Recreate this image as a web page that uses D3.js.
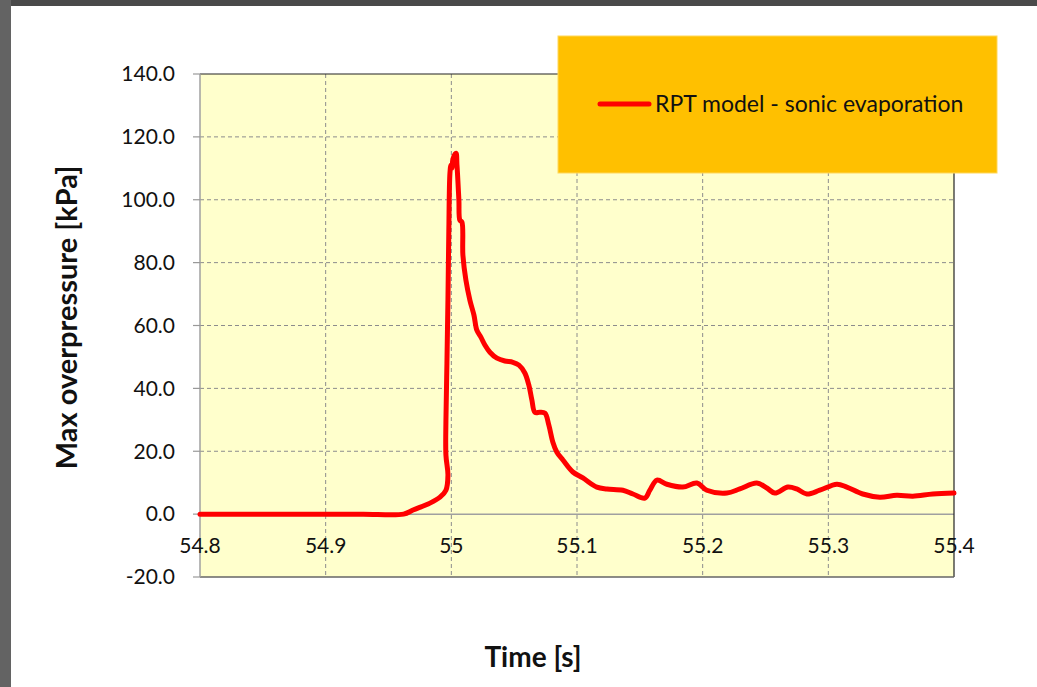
<!DOCTYPE html>
<html>
<head>
<meta charset="utf-8">
<script src="https://cdn.jsdelivr.net/npm/d3@7"></script>
<style>
  body { margin: 0; background: #fff; }
  svg text { font-family: Lato, "Open Sans", sans-serif; fill: #111; }
</style>
</head>
<body>
<div id="chart"></div>
<script>
const seriesName = "RPT model - sonic evaporation";

const timeS = [54.8, 54.85, 54.9, 54.93, 54.962, 54.9695, 54.983, 54.991, 54.9957, 54.9973, 54.9957, 54.9957, 54.9965,
  54.9973, 54.998, 54.9989, 54.9997, 55.0005, 55.0013, 55.0037, 55.0045, 55.006, 55.0068,
  55.0084, 55.0092, 55.0116, 55.0148, 55.018, 55.0203, 55.0235, 55.0267, 55.0307, 55.0363,
  55.0426, 55.049, 55.0538, 55.0585, 55.0617, 55.0641, 55.0665, 55.0705, 55.0745, 55.0776,
  55.0808, 55.084, 55.0888, 55.0967, 55.1047, 55.1158, 55.1238, 55.1365, 55.1445, 55.154,
  55.158, 55.1636, 55.1715, 55.1842, 55.1954, 55.2033, 55.2193, 55.2296, 55.2431, 55.2511,
  55.2574, 55.2678, 55.2749, 55.2829, 55.2932, 55.3068, 55.3147, 55.3274, 55.341, 55.3545,
  55.3672, 55.3831, 55.4];
const overpressure = [0, 0, 0, 0, 0, 1.3, 3.5, 5.4, 7.6, 12.4, 18.8, 29.9, 48,
  68, 90, 108.5, 111, 110, 113, 114.8, 111, 100, 93.5,
  92.9, 82.4, 74.4, 68, 63.3, 58.5, 56.3, 53.8, 51.5, 49.6,
  48.7, 48.3, 47.4, 44.9, 41, 36.3, 32.4, 32.4, 32.1, 28.3,
  22.9, 19.7, 17.2, 13.4, 11.5, 8.6, 8.0, 7.6, 6.4, 5.1,
  7.6, 10.8, 9.5, 8.6, 9.9, 7.6, 6.7, 8.0, 9.9, 8.3,
  6.7, 8.6, 8.0, 6.4, 7.6, 9.5, 8.6, 6.4, 5.4, 6.0,
  5.7, 6.4, 6.7];

const xTicks = [54.8, 54.9, 55, 55.1, 55.2, 55.3, 55.4];
const xTickLabels = ["54.8", "54.9", "55", "55.1", "55.2", "55.3", "55.4"];
const yTicks = [-20, 0, 20, 40, 60, 80, 100, 120, 140];

const W = 1037, H = 687;
const plot = { left: 200, right: 954, top: 74, bottom: 577 };

const svg = d3.select("#chart").append("svg")
  .attr("width", W).attr("height", H);

// slide frame
svg.append("rect").attr("x", 0).attr("y", 0).attr("width", W).attr("height", 6).attr("fill", "#4a4a4a");
svg.append("rect").attr("x", 0).attr("y", 0).attr("width", 11).attr("height", H).attr("fill", "#636363");

const x = d3.scaleLinear().domain([54.8, 55.4]).range([plot.left, plot.right]);
const y = d3.scaleLinear().domain([-20, 140]).range([plot.bottom, plot.top]);

svg.append("rect")
  .attr("x", plot.left).attr("y", plot.top)
  .attr("width", plot.right - plot.left).attr("height", plot.bottom - plot.top)
  .attr("fill", "#ffffcc");

// grid
svg.append("g").selectAll("line")
  .data(xTicks.slice(1, -1))
  .join("line")
  .attr("x1", d => x(d)).attr("x2", d => x(d))
  .attr("y1", plot.top).attr("y2", plot.bottom)
  .attr("stroke", "#8c8c8c").attr("stroke-width", 1).attr("stroke-dasharray", "4,3");

svg.append("g").selectAll("line")
  .data(yTicks.filter(d => d > 0 && d < 140))
  .join("line")
  .attr("x1", plot.left).attr("x2", plot.right)
  .attr("y1", d => y(d)).attr("y2", d => y(d))
  .attr("stroke", "#8c8c8c").attr("stroke-width", 1).attr("stroke-dasharray", "4,3");

// zero line
svg.append("line")
  .attr("x1", plot.left).attr("x2", plot.right)
  .attr("y1", y(0)).attr("y2", y(0))
  .attr("stroke", "#a0a0a0").attr("stroke-width", 1.5);

// frame lines
svg.append("line").attr("x1", plot.left).attr("x2", plot.right).attr("y1", plot.top).attr("y2", plot.top)
  .attr("stroke", "#222").attr("stroke-width", 1.2);
svg.append("line").attr("x1", plot.right).attr("x2", plot.right).attr("y1", plot.top).attr("y2", plot.bottom)
  .attr("stroke", "#222").attr("stroke-width", 1.2);
svg.append("line").attr("x1", plot.left).attr("x2", plot.right).attr("y1", plot.bottom).attr("y2", plot.bottom)
  .attr("stroke", "#666").attr("stroke-width", 1.5);
svg.append("line").attr("x1", plot.left).attr("x2", plot.left).attr("y1", plot.top).attr("y2", plot.bottom)
  .attr("stroke", "#a0a0a0").attr("stroke-width", 1.5);

// y ticks + labels
const yAxis = svg.append("g");
yAxis.selectAll("line")
  .data(yTicks)
  .join("line")
  .attr("x1", plot.left - 7).attr("x2", plot.left)
  .attr("y1", d => y(d)).attr("y2", d => y(d))
  .attr("stroke", "#999").attr("stroke-width", 1.2);
yAxis.selectAll("text")
  .data(yTicks)
  .join("text")
  .attr("x", 175).attr("y", d => y(d))
  .attr("dy", "0.35em")
  .attr("text-anchor", "end")
  .style("font-size", "21px")
  .text(d => d.toFixed(1));

// x labels sit under the zero line
svg.append("g").selectAll("text")
  .data(xTicks)
  .join("text")
  .attr("x", d => x(d)).attr("y", y(0) + 39)
  .attr("text-anchor", "middle")
  .style("font-size", "21px")
  .text((d, i) => xTickLabels[i]);

// axis titles
svg.append("text")
  .attr("transform", `translate(77,${(plot.top + plot.bottom) / 2 - 8}) rotate(-90)`)
  .attr("text-anchor", "middle")
  .style("font-size", "29px").style("font-weight", "bold")
  .text("Max overpressure [kPa]");

svg.append("text")
  .attr("x", 533).attr("y", 667)
  .attr("text-anchor", "middle")
  .style("font-size", "28px").style("font-weight", "bold")
  .text("Time [s]");

// series
const pts = timeS.map((t, i) => [t, overpressure[i]]);
const line = d3.line().x(d => x(d[0])).y(d => y(d[1])).curve(d3.curveCatmullRom.alpha(0.5));
svg.append("path")
  .datum(pts)
  .attr("d", line)
  .attr("fill", "none")
  .attr("stroke", "#ff0000")
  .attr("stroke-width", 5)
  .attr("stroke-linejoin", "round")
  .attr("stroke-linecap", "round");

// legend
const lg = svg.append("g");
lg.append("rect")
  .attr("x", 558).attr("y", 36).attr("width", 439).attr("height", 137)
  .attr("fill", "#ffc000").attr("stroke", "#ffd75a").attr("stroke-width", 1);
lg.append("line")
  .attr("x1", 600).attr("x2", 649).attr("y1", 104).attr("y2", 104)
  .attr("stroke", "#ff0000").attr("stroke-width", 5).attr("stroke-linecap", "round");
lg.append("text")
  .attr("x", 655).attr("y", 104).attr("dy", "0.35em")
  .style("font-size", "23px")
  .text(seriesName);
</script>
</body>
</html>
